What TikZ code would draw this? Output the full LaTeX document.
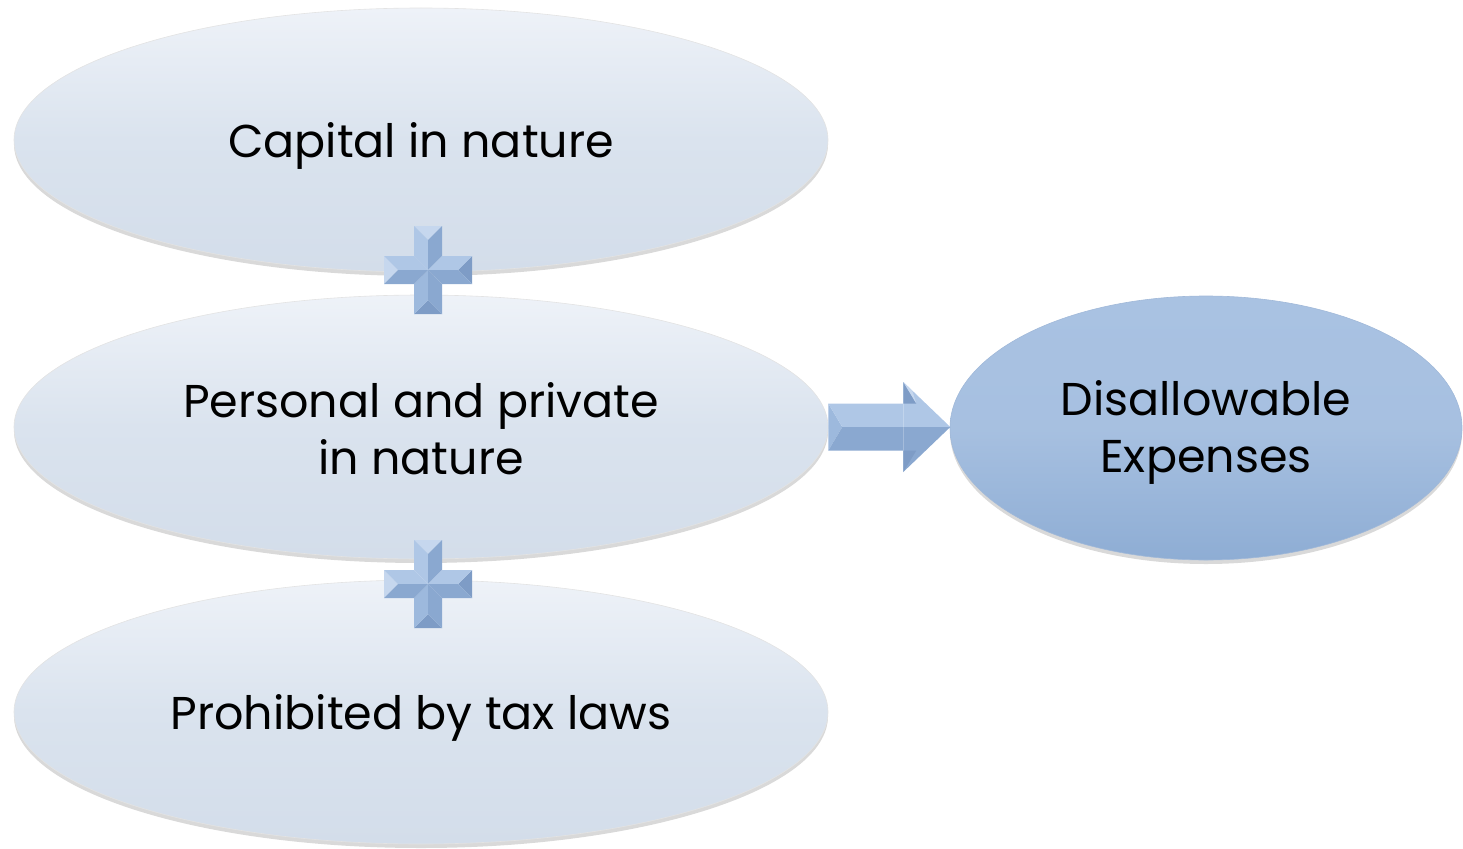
\documentclass[tikz,border=0pt]{standalone}
\usepackage{fontspec}
\setmainfont{Poppins}
\usetikzlibrary{shapes.geometric,shadows}
\definecolor{paleTop}{HTML}{EEF2F8}
\definecolor{paleMid}{HTML}{DAE3EE}
\definecolor{paleBot}{HTML}{D3DDEA}
\definecolor{deepTop}{HTML}{A9C2E2}
\definecolor{deepBot}{HTML}{8EADD4}
\definecolor{bevLight}{HTML}{C6D7EE}
\definecolor{bevTop}{HTML}{AFC7E6}
\definecolor{bevMid}{HTML}{9DB9DD}
\definecolor{bevDark}{HTML}{8AA8D0}
\definecolor{bevDeep}{HTML}{7E9CC6}
% centred text block, dropped by #1 without changing its size
\newcommand\lowered[2]{\raisebox{-#1}[\height][\depth]{\begin{tabular}{@{}c@{}}#2\end{tabular}}}
\tikzset{
  bubble/.style={ellipse, minimum width=814pt, minimum height=264pt, inner sep=0pt,
    top color=paleTop, bottom color=paleBot, middle color=paleMid,
    draw=gray!22, line width=0.6pt,
    font=\fontsize{46}{57}\selectfont,
    drop shadow={shadow xshift=0pt, shadow yshift=-4pt, opacity=.30, fill=gray}},
  result/.style={bubble, minimum width=512pt, top color=deepTop, bottom color=deepBot,
    middle color=bevMid!90!white, draw=bevDark!80},
  fl/.style={fill=bevLight}, ft/.style={fill=bevTop}, fm/.style={fill=bevMid},
  fd/.style={fill=bevDark}, fx/.style={fill=bevDeep},
  plusglyph/.pic={
    % vertical bar, upper arm
    \fill[fl] (-14,-44) -- (14,-44) -- (0,-30) -- cycle;
    \fill[ft] (-14,-44) -- (0,-30) -- (0,0) -- (-14,-14) -- cycle;
    \fill[fd] (14,-44) -- (14,-14) -- (0,0) -- (0,-30) -- cycle;
    % vertical bar, lower arm
    \fill[fx] (-14,44) -- (14,44) -- (0,30) -- cycle;
    \fill[fm] (-14,44) -- (-14,14) -- (0,0) -- (0,30) -- cycle;
    \fill[fd] (14,44) -- (0,30) -- (0,0) -- (14,14) -- cycle;
    % horizontal bar, left arm
    \fill[fl] (-44,-14) -- (-44,14) -- (-30,0) -- cycle;
    \fill[ft] (-44,-14) -- (-14,-14) -- (0,0) -- (-30,0) -- cycle;
    \fill[fd] (-44,14) -- (-30,0) -- (0,0) -- (-14,14) -- cycle;
    % horizontal bar, right arm
    \fill[fx] (44,-14) -- (44,14) -- (30,0) -- cycle;
    \fill[ft] (14,-14) -- (44,-14) -- (30,0) -- (0,0) -- cycle;
    \fill[fd] (44,14) -- (14,14) -- (0,0) -- (30,0) -- cycle;
  },
  arrowglyph/.pic={
    % shaft
    \fill[fm] (0,-23.5) -- (0,23.5) -- (14,0) -- cycle;
    \fill[ft] (0,-23.5) -- (75,-23.5) -- (75,0) -- (14,0) -- cycle;
    \fill[fd] (0,23.5) -- (14,0) -- (75,0) -- (75,23.5) -- cycle;
    % head
    \fill[ft] (75,-45) -- (122,0) -- (75,0) -- cycle;
    \fill[fd] (75,45) -- (122,0) -- (75,0) -- cycle;
    \fill[fx] (75,-45) -- (88,-23.5) -- (75,-23.5) -- cycle;
    \fill[fx] (75,45) -- (88,23.5) -- (75,23.5) -- cycle;
    \fill[fl] (88,-23.5) -- (75,-45) -- (84,-36) -- cycle;
  }
}
\begin{document}
\begin{tikzpicture}[x=1pt,y=-1pt]
\useasboundingbox (0,0) rectangle (1463,848);

\node[bubble] (cap) at (421,140) {\lowered{6.5pt}{Capital in nature}};
\node[bubble] (pers) at (421,427) {\lowered{8pt}{Personal and private\\in nature}};
\node[bubble] (proh) at (421,712) {\lowered{6.5pt}{Prohibited by tax laws}};
\node[result] (dis) at (1206,428) {\lowered{5pt}{Disallowable\\Expenses}};

% plus signs joining the three conditions
\pic at (428,270) {plusglyph};
\pic at (428,584) {plusglyph};

% block arrow leading to the result
\pic at (pers.east) {arrowglyph};
\end{tikzpicture}
\end{document}
